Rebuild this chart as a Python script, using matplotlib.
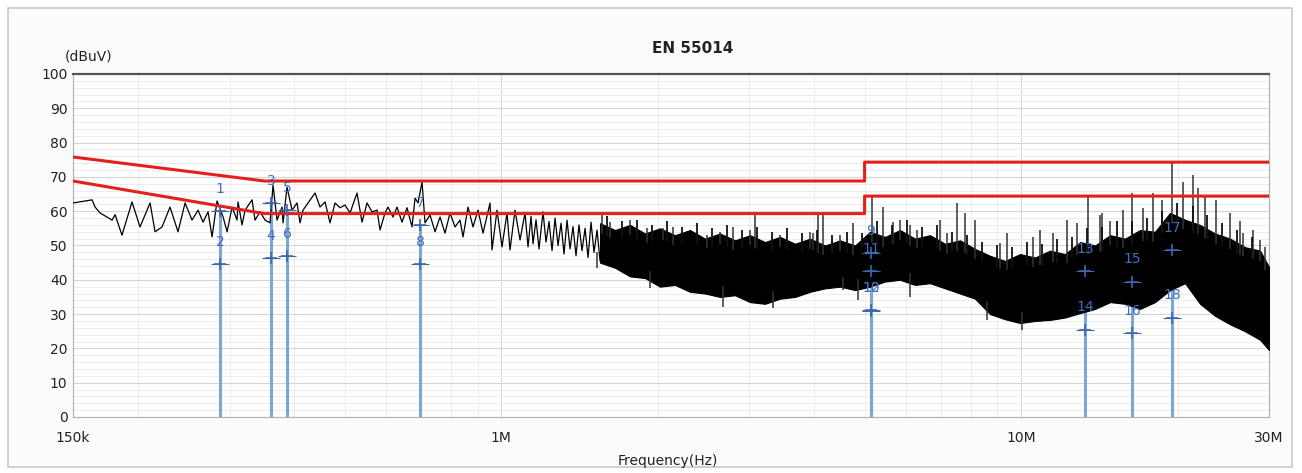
import numpy as np
import matplotlib.pyplot as plt
from matplotlib.patches import Rectangle
from matplotlib.ticker import FixedLocator

# scan trace below ~1.55 MHz (MHz, dBuV)
lf_mhz = [0.150, 0.1632, 0.1654, 0.1690, 0.1783, 0.1807, 0.1863, 0.1948, 0.2018, 0.2110,
          0.2157, 0.2225, 0.2305, 0.2388, 0.2464, 0.2541, 0.2610, 0.2668, 0.2728, 0.2777,
          0.2839, 0.2916, 0.2968, 0.3034, 0.3102, 0.3116, 0.3171, 0.3214, 0.3315, 0.3359,
          0.3435, 0.3512, 0.3590, 0.3638, 0.3703, 0.3786, 0.3803, 0.3871, 0.3958, 0.4046,
          0.4100, 0.4155, 0.4248, 0.4382, 0.4480, 0.4581, 0.4683, 0.4788, 0.4895, 0.5005,
          0.5117, 0.5278, 0.5396, 0.5517, 0.5641, 0.5767, 0.5844, 0.5975, 0.6055, 0.6190,
          0.6301, 0.6442, 0.6586, 0.6734, 0.6824, 0.6915, 0.7039, 0.7133, 0.7293, 0.7456,
          0.7623, 0.7794, 0.7968, 0.8147, 0.8329, 0.8441, 0.8630, 0.8823, 0.9021, 0.9223,
          0.9513, 0.9598, 0.9813, 1.0032, 1.0257, 1.0394, 1.0627, 1.0865, 1.1108, 1.1257,
          1.1408, 1.1510, 1.1664, 1.1820, 1.2030, 1.2192, 1.2356, 1.2521, 1.2689, 1.2858,
          1.3030, 1.3204, 1.3380, 1.3560, 1.3740, 1.3924, 1.4110, 1.4299, 1.4493, 1.4686,
          1.4882, 1.5081, 1.5283, 1.5490]
lf_db = [62.4, 63.3, 61.2, 59.5, 57.4, 59.0, 53.0, 62.7, 55.4, 62.4,
         54.0, 55.4, 61.2, 54.0, 62.4, 57.4, 60.3, 56.8, 59.8, 52.5,
         63.0, 58.3, 54.0, 61.2, 57.4, 62.7, 56.0, 60.3, 63.3, 57.4,
         59.8, 57.4, 56.6, 67.6, 57.4, 61.2, 56.6, 67.0, 60.3, 62.4,
         56.6, 60.3, 62.4, 65.3, 61.2, 62.7, 56.6, 62.4, 61.0, 61.8,
         59.5, 65.3, 56.8, 62.4, 59.8, 60.3, 54.5, 59.5, 61.2, 58.3,
         61.2, 56.8, 61.0, 55.4, 63.8, 62.4, 68.5, 56.6, 58.9, 54.0,
         58.3, 53.6, 59.5, 55.4, 57.4, 52.5, 61.2, 55.4, 60.3, 53.6,
         62.4, 48.7, 60.3, 49.6, 59.5, 48.7, 60.3, 51.6, 59.5, 49.6,
         58.5, 50.5, 57.5, 49.0, 59.8, 51.0, 57.0, 48.5, 58.0, 50.0,
         56.5, 47.5, 57.4, 49.0, 55.5, 47.0, 56.0, 48.5, 55.0, 46.5,
         56.8, 48.0, 54.5, 45.5]

# dense part of the scan: upper / lower edge of the black band
band_mhz = [1.549, 1.655, 1.769, 1.891, 2.020, 2.159, 2.307, 2.466, 2.636, 2.816,
            3.010, 3.217, 3.438, 3.674, 3.927, 4.196, 4.486, 4.793, 5.123, 5.474,
            5.850, 6.252, 6.683, 7.142, 7.632, 8.155, 8.717, 9.315, 9.955, 10.64,
            11.37, 12.15, 12.99, 13.88, 14.84, 15.85, 16.94, 18.10, 19.35, 20.68,
            22.10, 23.61, 25.25, 26.97, 28.83, 30.0]
band_hi = [56.5, 54.5, 56.0, 53.5, 55.0, 53.0, 54.5, 52.0, 53.5, 51.5,
           53.0, 51.0, 52.5, 50.5, 52.0, 50.0, 51.5, 50.0, 54.0, 52.5,
           54.5, 52.0, 53.0, 50.5, 51.5, 49.0, 47.0, 45.5, 47.5, 46.5,
           48.5, 47.5, 51.0, 50.0, 53.0, 52.0, 54.5, 54.0, 59.5, 57.5,
           56.0, 53.5, 52.0, 49.5, 48.5, 43.7]
band_lo = [45.0, 43.5, 41.0, 40.5, 38.0, 38.5, 36.5, 36.0, 35.0, 35.5,
           33.5, 33.0, 34.5, 35.0, 36.5, 37.5, 38.0, 37.0, 38.0, 39.5,
           40.0, 38.5, 39.0, 37.5, 36.0, 34.5, 30.0, 28.5, 27.4, 28.0,
           28.3, 29.0, 30.3, 31.5, 33.5, 33.0, 31.5, 33.5, 37.0, 39.0,
           33.0, 29.5, 27.0, 25.0, 22.5, 19.5]

# single spikes standing out of the band (upwards)
spike_mhz = [1.562, 1.619, 1.769, 1.907, 2.048, 2.140, 2.489, 2.636, 2.791, 3.010,
             3.078, 3.438, 3.927, 3.979, 4.070, 4.160, 4.327, 4.486, 4.750, 5.166,
             5.426, 5.672, 5.850, 6.116, 6.308, 6.984, 7.205, 7.530, 7.801, 8.155,
             9.111, 9.399, 10.55, 10.88, 11.52, 12.26, 12.82, 13.45, 14.19, 14.31,
             14.84, 15.71, 16.35, 17.16, 17.95, 18.68, 19.52, 20.49, 21.42, 21.90,
             22.59, 23.72, 25.25, 26.39, 26.73, 27.95, 28.83, 29.47]
spike_db = [58.9, 56.8, 57.4, 55.0, 55.0, 55.4, 53.0, 54.0, 55.4, 54.5,
            58.9, 53.0, 54.0, 53.6, 58.9, 58.9, 51.6, 53.0, 56.6, 64.7,
            61.2, 56.8, 57.4, 56.0, 54.5, 57.4, 53.6, 62.4, 59.5, 57.4,
            50.7, 53.6, 52.5, 54.5, 53.6, 57.4, 56.6, 64.1, 59.0, 59.5,
            57.0, 60.3, 65.3, 61.0, 65.3, 63.3, 74.0, 68.5, 70.5, 66.8,
            64.1, 63.3, 59.5, 57.0, 53.6, 54.5, 51.6, 49.6]

# short grass on top of the band
fuzz_mhz = [1.598, 1.707, 1.825, 1.950, 2.085, 2.228, 2.381, 2.544, 2.719, 2.905,
            3.105, 3.318, 3.546, 3.790, 4.051, 4.327, 4.626, 4.944, 5.284, 5.647,
            6.035, 6.450, 6.893, 7.367, 7.872, 8.413, 8.991, 9.609, 10.27, 10.97,
            11.73, 12.53, 13.39, 14.31, 15.30, 16.35, 17.47, 18.68, 19.96, 21.42,
            22.80, 24.37, 26.04, 27.83]
fuzz_db = [58.5, 57.0, 57.5, 56.0, 57.0, 55.5, 56.5, 55.0, 56.0, 54.5,
           55.5, 54.0, 55.0, 53.5, 54.5, 53.0, 54.0, 53.5, 57.0, 56.0,
           57.5, 55.5, 56.0, 54.0, 53.0, 51.0, 50.0, 49.5, 51.0, 50.5,
           52.0, 52.5, 55.0, 55.5, 57.0, 57.0, 58.0, 60.0, 62.5, 61.5,
           59.0, 56.5, 54.5, 52.5]

# dips below the band
dip_mhz = [1.528, 1.934, 2.671, 3.333, 4.545, 4.857, 6.116, 8.601, 10.04]
dip_db = [43.4, 37.6, 32.0, 31.8, 37.0, 34.1, 35.0, 28.3, 25.4]

# EN 55014 limit lines
qp_mhz = [0.15, 0.35, 5.0, 5.0, 30.0]
qp_db = [75.8, 68.8, 68.8, 74.3, 74.3]
av_mhz = [0.15, 0.35, 5.0, 5.0, 30.0]
av_db = [68.8, 59.3, 59.3, 64.4, 64.4]

# markers (odd = QP, even = AV)
mk_no = [1, 2, 3, 4, 5, 6, 7, 8, 9, 10, 11, 12, 13, 14, 15, 16, 17, 18]
mk_mhz = [0.2877, 0.2877, 0.3606, 0.3606, 0.3871, 0.3871, 0.6977, 0.6977, 5.145, 5.145,
          5.145, 5.145, 13.28, 13.28, 16.35, 16.35, 19.52, 19.52]
mk_db = [60.0, 44.5, 62.4, 46.4, 60.3, 47.0, 56.0, 44.6, 47.8, 31.2,
         42.5, 31.0, 42.5, 25.5, 39.5, 24.5, 48.7, 29.0]

fig = plt.figure(figsize=(13.02, 4.73), dpi=100)
fig.patch.set_facecolor('white')
fig.patches.append(Rectangle((0.006, 0.012), 0.986, 0.972, transform=fig.transFigure,
                             facecolor='#fbfbfb', edgecolor='#c8c8c8', lw=1.2, zorder=-10))

ax = fig.add_axes([0.0561, 0.1184, 0.9186, 0.7252])
ax.set_zorder(1)
ax.set_facecolor('white')
ax.set_xscale('log')
ax.set_xlim(0.15, 30)
ax.set_ylim(0, 100)

ax.set_xticks([0.15, 1, 10, 30])
ax.set_xticklabels(['150k', '1M', '10M', '30M'])
minor_x = [m * d for d in (0.1, 1, 10) for m in range(2, 10) if 0.15 < m * d < 30]
ax.xaxis.set_minor_locator(FixedLocator(minor_x))
ax.xaxis.set_minor_formatter(plt.NullFormatter())
ax.set_yticks(np.arange(0, 101, 10))
ax.yaxis.set_minor_locator(FixedLocator(np.arange(0, 101, 2)))
ax.tick_params(which='both', length=0, labelsize=10, colors='#222222')
ax.tick_params(axis='x', pad=10)
ax.tick_params(axis='y', pad=4)
ax.grid(which='major', color='#d6d6d6', lw=0.8)
ax.grid(which='minor', color='#ececec', lw=0.7)
ax.set_axisbelow(True)

for s in ('left', 'bottom', 'right'):
    ax.spines[s].set_color('#b0b0b0')
ax.spines['top'].set_color('#555555')
ax.spines['top'].set_linewidth(1.6)

# marker stems
for k in range(0, len(mk_no), 2):
    ax.plot([mk_mhz[k], mk_mhz[k]], [0, max(mk_db[k], mk_db[k + 1])],
            color='#7ea6d2', lw=2.2, zorder=2)

# scan trace
ax.fill_between(band_mhz, band_lo, band_hi, facecolor='black', edgecolor='black',
                lw=0.8, zorder=3)
top = np.interp(np.log10(spike_mhz), np.log10(band_mhz), band_hi)
ax.vlines(spike_mhz, top - 3, spike_db, color='#333333', lw=1.1, zorder=3)
ftop = np.interp(np.log10(fuzz_mhz), np.log10(band_mhz), band_hi)
ax.vlines(fuzz_mhz, ftop - 3, fuzz_db, color='#111111', lw=1.3, zorder=3)
bot = np.interp(np.log10(dip_mhz), np.log10(band_mhz), band_lo)
ax.vlines(dip_mhz, dip_db, bot + 3, color='#333333', lw=1.1, zorder=3)
ax.plot(lf_mhz, lf_db, color='black', lw=0.9, zorder=3)

# limits
ax.plot(qp_mhz, qp_db, color='#e3201b', lw=2.2, zorder=4)
ax.plot(av_mhz, av_db, color='#e3201b', lw=2.2, zorder=4)

# marker symbols and numbers
ax.plot(mk_mhz, mk_db, ls='none', marker='+', ms=8, mew=1.2, color='#3d68b0', zorder=5)
ax.plot(mk_mhz, mk_db, ls='none', marker='_', ms=13, mew=0.8, color='#3d68b0', zorder=5)
for n, f, v in zip(mk_no, mk_mhz, mk_db):
    ax.annotate(str(n), (f, v), xytext=(0, 16), textcoords='offset points',
                ha='center', va='center', fontsize=10, color='#3f6fc0', zorder=6)

fig.text(0.532, 0.898, 'EN 55014', ha='center', va='center', fontsize=11,
         fontweight='bold', color='#222222')
fig.text(0.050, 0.880, '(dBuV)', ha='left', va='center', fontsize=10, color='#222222')
fig.text(0.513, 0.025, 'Frequency(Hz)', ha='center', va='center', fontsize=10,
         color='#222222')

fig.savefig('out.png', dpi=100)
